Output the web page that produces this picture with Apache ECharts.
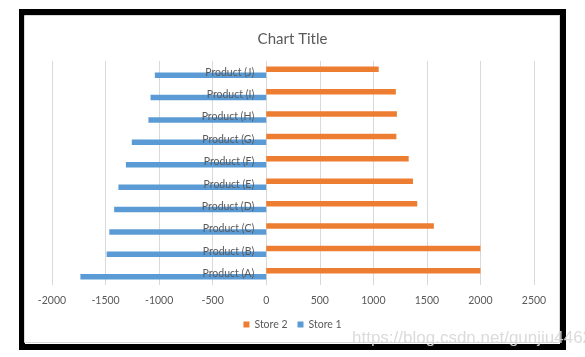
<!DOCTYPE html>
<html><head><meta charset="utf-8">
<script src="https://cdn.jsdelivr.net/npm/echarts@6/dist/echarts.min.js"></script>
<style>html,body{margin:0;padding:0;background:#fff}#c{width:585px;height:357px}</style>
</head><body><div id="c"></div>
<script>
var categories = ['Product (A)','Product (B)','Product (C)','Product (D)','Product (E)','Product (F)','Product (G)','Product (H)','Product (I)','Product (J)'];
var store1 = [-1735,-1490,-1465,-1420,-1380,-1310,-1255,-1100,-1080,-1040];
var store2 = [2000,2000,1565,1410,1370,1330,1215,1220,1210,1050];
var xTicks = {min:-2000, max:2500, interval:500};
var seriesNames = ['Store 2','Store 1'];

var chart = echarts.init(document.getElementById('c'), null, {renderer:'canvas'});
var font = 'Lato, Liberation Sans, sans-serif';
var gridLeft = 52, gridRight = 51, chartW = 585;
var zeroOffset = (chartW - gridLeft - gridRight) * (0 - xTicks.min) / (xTicks.max - xTicks.min);
chart.setOption({
  animation:false,
  title:{text:'Chart Title', left:'center', top:27, textStyle:{fontFamily:font, fontSize:15, fontWeight:'normal', color:'#595959'}},
  legend:{data:seriesNames, bottom:22, left:'center', icon:'rect', itemWidth:6, itemHeight:6, itemGap:10,
    textStyle:{fontFamily:font, fontSize:10.5, color:'#595959'}},
  grid:{left:gridLeft, right:gridRight, top:61, bottom:72, containLabel:false, outerBoundsMode:'none'},
  xAxis:{type:'value', min:xTicks.min, max:xTicks.max, interval:xTicks.interval,
    axisLine:{show:false}, axisTick:{show:false},
    splitLine:{lineStyle:{color:'#d9d9d9'}},
    axisLabel:{fontFamily:font, fontSize:10.5, color:'#595959', margin:10, formatter:function(v){return String(v);}}},
  yAxis:{type:'category', data:categories, z:5, offset:-zeroOffset,
    axisLine:{show:false, onZero:false}, axisTick:{show:false},
    axisLabel:{fontFamily:font, fontSize:10.5, color:'#595959', margin:12}},
  series:[
    {name:'Store 2', type:'bar', data:store2, barWidth:5.5, barGap:'8%', itemStyle:{color:'#ED7D31'}},
    {name:'Store 1', type:'bar', data:store1, barWidth:5.5, barGap:'8%', itemStyle:{color:'#5B9BD5'}}
  ],
  graphic:[
    {type:'rect', z:100, silent:true, shape:{x:22, y:12, width:541, height:335}, style:{fill:null, stroke:'#000', lineWidth:6}},
    {type:'rect', z:100, silent:true, shape:{x:24.5, y:15.5, width:535, height:327}, style:{fill:null, stroke:'#d9d9d9', lineWidth:1}},
    {type:'text', z:101, silent:true, left:352, top:330, style:{text:'https://blog.csdn.net/gunjiu4462', fontFamily:'Liberation Sans, sans-serif', fontSize:17, fill:'rgba(215,215,215,0.9)'}}
  ]
});
</script></body></html>
